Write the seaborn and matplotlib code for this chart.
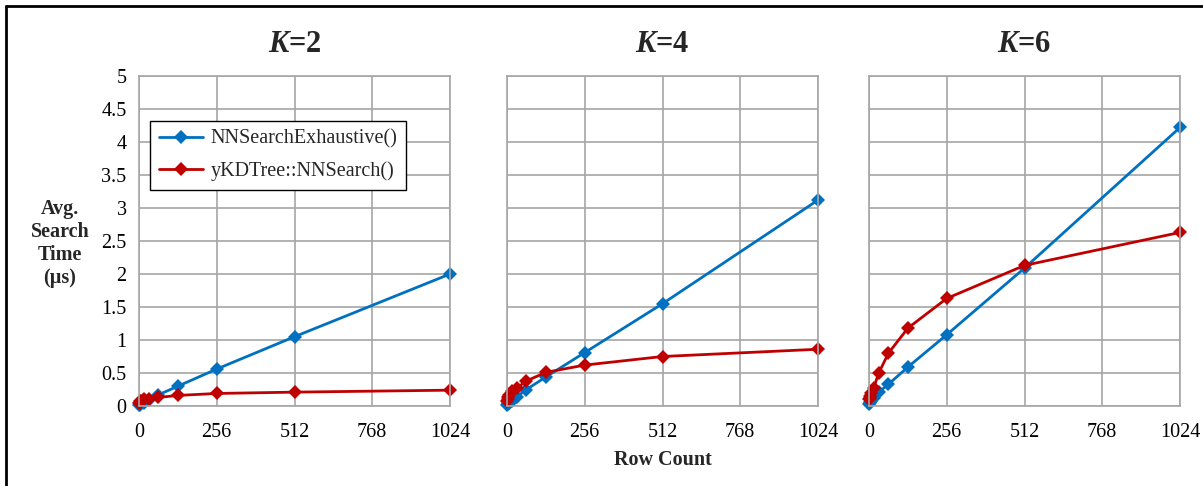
import numpy as np
import pandas as pd
import matplotlib
matplotlib.use("Agg")
import matplotlib.pyplot as plt
import seaborn as sns
from matplotlib.lines import Line2D

rows = [1, 2, 4, 8, 16, 32, 64, 128, 256, 512, 1024]
k_values = [2, 4, 6]

# avg search time (us)
exhaustive_k2 = [0.02, 0.02, 0.03, 0.04, 0.05, 0.09, 0.17, 0.30, 0.56, 1.05, 2.00]
kdtree_k2 = [0.04, 0.05, 0.07, 0.08, 0.10, 0.11, 0.13, 0.16, 0.19, 0.21, 0.24]
exhaustive_k4 = [0.02, 0.03, 0.04, 0.05, 0.08, 0.14, 0.25, 0.44, 0.81, 1.55, 3.12]
kdtree_k4 = [0.07, 0.10, 0.13, 0.17, 0.22, 0.27, 0.38, 0.51, 0.62, 0.75, 0.86]
exhaustive_k6 = [0.03, 0.04, 0.06, 0.08, 0.12, 0.21, 0.33, 0.59, 1.08, 2.09, 4.22]
kdtree_k6 = [0.10, 0.12, 0.15, 0.20, 0.28, 0.50, 0.80, 1.18, 1.63, 2.13, 2.63]

series_names = ["NNSearchExhaustive()", "yKDTree::NNSearch()"]
colors = ["#0070C0", "#C00000"]

frames = []
for k, ex, kd in [(2, exhaustive_k2, kdtree_k2), (4, exhaustive_k4, kdtree_k4), (6, exhaustive_k6, kdtree_k6)]:
    frames.append(pd.DataFrame({"K": k, "rows": rows, "time": ex, "method": series_names[0]}))
    frames.append(pd.DataFrame({"K": k, "rows": rows, "time": kd, "method": series_names[1]}))
data = pd.concat(frames, ignore_index=True)

sns.set_style("white")
plt.rcParams["font.family"] = ["Liberation Serif", "DejaVu Serif"]
plt.rcParams["mathtext.fontset"] = "custom"
plt.rcParams["mathtext.bfit"] = "Liberation Serif:italic:bold"

fig = plt.figure(figsize=(12.03, 4.86), dpi=100)
lefts = [139, 507, 869]
grid_col = "#A6A6A6"

for i, k in enumerate(k_values):
    ax = fig.add_axes([lefts[i] / 1203, 1 - 406 / 486, 311 / 1203, 330 / 486])
    sub = data[data["K"] == k]
    sns.lineplot(data=sub, x="rows", y="time", hue="method", palette=colors,
                 marker="D", markersize=7, markeredgewidth=0, linewidth=2,
                 ax=ax, legend=False, clip_on=False)
    ax.set_xlim(0, 1024)
    ax.set_ylim(0, 5)
    ax.set_xticks([0, 256, 512, 768, 1024])
    ax.set_yticks(np.arange(0, 5.01, 0.5))
    ax.set_yticklabels(["0", "0.5", "1", "1.5", "2", "2.5", "3", "3.5", "4", "4.5", "5"])
    ax.grid(True, color=grid_col, linewidth=1.2)
    ax.set_axisbelow(True)
    for s in ax.spines.values():
        s.set_color(grid_col)
        s.set_linewidth(1.2)
    ax.tick_params(axis="both", colors=grid_col, labelcolor="black", labelsize=14.5,
                   length=6, width=1.2, direction="out", pad=3)
    ax.tick_params(axis="x", length=0, pad=12)
    if i > 0:
        ax.tick_params(axis="y", labelleft=False)
    ax.set_xlabel("")
    ax.set_ylabel("")
    ax.set_title(r"$\mathbfit{K}$=" + str(k), fontsize=22, fontweight="bold", pad=17)
    if i == 0:
        handles = [Line2D([0], [0], color=c, marker="D", markersize=7, markeredgewidth=0, linewidth=2)
                   for c in colors]
        leg = ax.legend(handles, series_names, loc="upper left", bbox_to_anchor=(0.035, 0.865),
                        fontsize=14.5, frameon=True, fancybox=False, edgecolor="black",
                        framealpha=1, borderpad=0.45, labelspacing=0.6, handlelength=2.2,
                        handletextpad=0.35, borderaxespad=0)
        leg.get_frame().set_linewidth(1.0)
    if i == 1:
        ax.set_xlabel("Row Count", fontsize=14.5, fontweight="bold", labelpad=6)

fig.text(60 / 1203, 1 - 243 / 486, "Avg.\nSearch\nTime\n(\u00b5s)", ha="center", va="center",
         fontsize=14.5, fontweight="bold", linespacing=1.2)

# figure border (top and left only)
fig.add_artist(Line2D([6 / 1203, 1.0], [1 - 6 / 486, 1 - 6 / 486], color="black", linewidth=2,
                      transform=fig.transFigure))
fig.add_artist(Line2D([6 / 1203, 6 / 1203], [1 - 6 / 486, 0.0], color="black", linewidth=2,
                      transform=fig.transFigure))

fig.savefig("out.png", dpi=100)
